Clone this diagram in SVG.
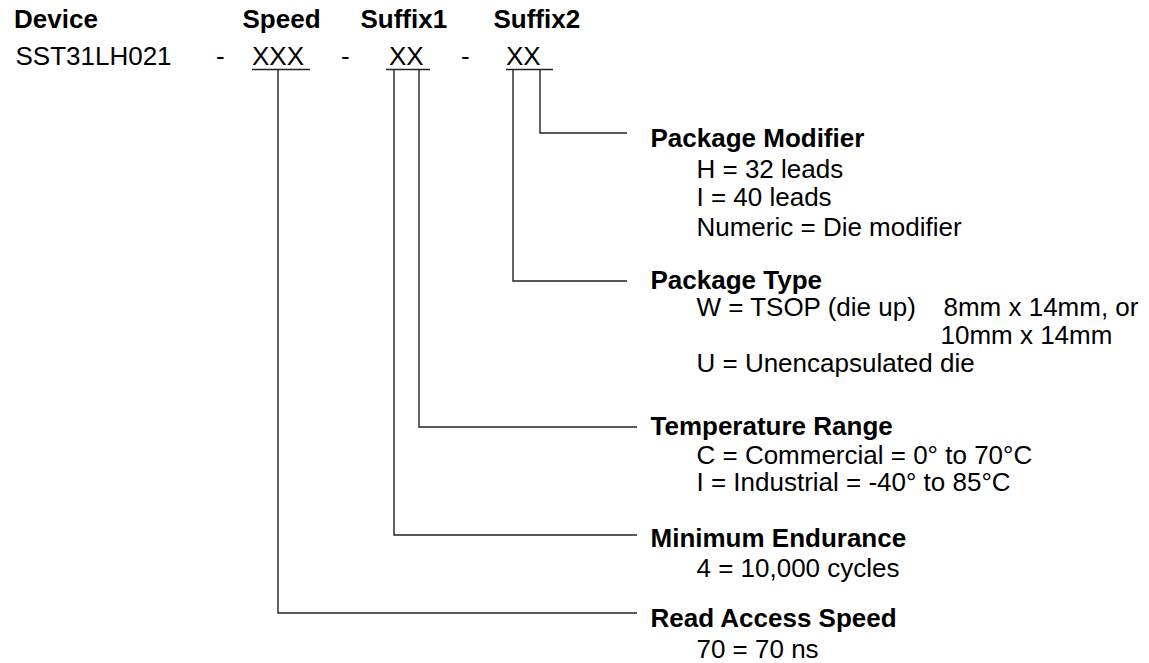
<svg xmlns="http://www.w3.org/2000/svg" width="1149" height="663" viewBox="0 0 1149 663">
<style>
  text { font-family: "Liberation Sans", Arial, Helvetica, sans-serif; font-size: 25px; fill: #000; }
  .b { font-weight: bold; }
  .ln { fill: none; stroke: #222; stroke-width: 1.4; }
</style>
<rect width="1149" height="663" fill="#fff"/>

<g id="header" transform="scale(1.04 1)">
  <text class="b" x="13.5" y="28.5">Device</text>
  <text class="b" x="233.2" y="28.5">Speed</text>
  <text class="b" x="346.6" y="28.5">Suffix1</text>
  <text class="b" x="474.5" y="28.5">Suffix2</text>
</g>

<g id="part-number">
  <g transform="scale(1.04 1)">
    <text x="14.9" y="65">SST31LH021</text>
    <text x="207.7" y="65">-</text>
    <text x="242.3" y="65">XXX</text>
    <text x="327.9" y="65">-</text>
    <text x="374" y="65">XX</text>
    <text x="443.3" y="65">-</text>
    <text x="486.5" y="65">XX</text>
  </g>
  <path class="ln" d="M252,69.5 H310 M386,69.5 H430 M506,69.5 H553"/>
</g>

<g id="connectors">
  <path class="ln" d="M540,70 V133 H627"/>
  <path class="ln" d="M513,70 V281 H627"/>
  <path class="ln" d="M419,70 V427 H637"/>
  <path class="ln" d="M394,70 V535 H637"/>
  <path class="ln" d="M278,70 V613 H637"/>
</g>

<g id="package-modifier" transform="scale(1.04 1)">
  <text class="b" x="625.5" y="147">Package Modifier</text>
  <text x="669.7" y="178">H = 32 leads</text>
  <text x="669.7" y="206">I = 40 leads</text>
  <text x="669.7" y="236">Numeric = Die modifier</text>
</g>

<g id="package-type" transform="scale(1.04 1)">
  <text class="b" x="625.5" y="289">Package Type</text>
  <text x="669.7" y="316">W = TSOP (die up)<tspan x="907.2">8mm x 14mm, or</tspan></text>
  <text x="904.3" y="344">10mm x 14mm</text>
  <text x="669.7" y="372">U = Unencapsulated die</text>
</g>

<g id="temperature-range" transform="scale(1.04 1)">
  <text class="b" x="625.5" y="435">Temperature Range</text>
  <text x="669.7" y="464">C = Commercial = 0° to 70°C</text>
  <text x="669.7" y="491">I = Industrial = -40° to 85°C</text>
</g>

<g id="minimum-endurance" transform="scale(1.04 1)">
  <text class="b" x="625.5" y="547">Minimum Endurance</text>
  <text x="669.7" y="577">4 = 10,000 cycles</text>
</g>

<g id="read-access-speed" transform="scale(1.04 1)">
  <text class="b" x="625.5" y="627">Read Access Speed</text>
  <text x="669.7" y="658">70 = 70 ns</text>
</g>
</svg>
